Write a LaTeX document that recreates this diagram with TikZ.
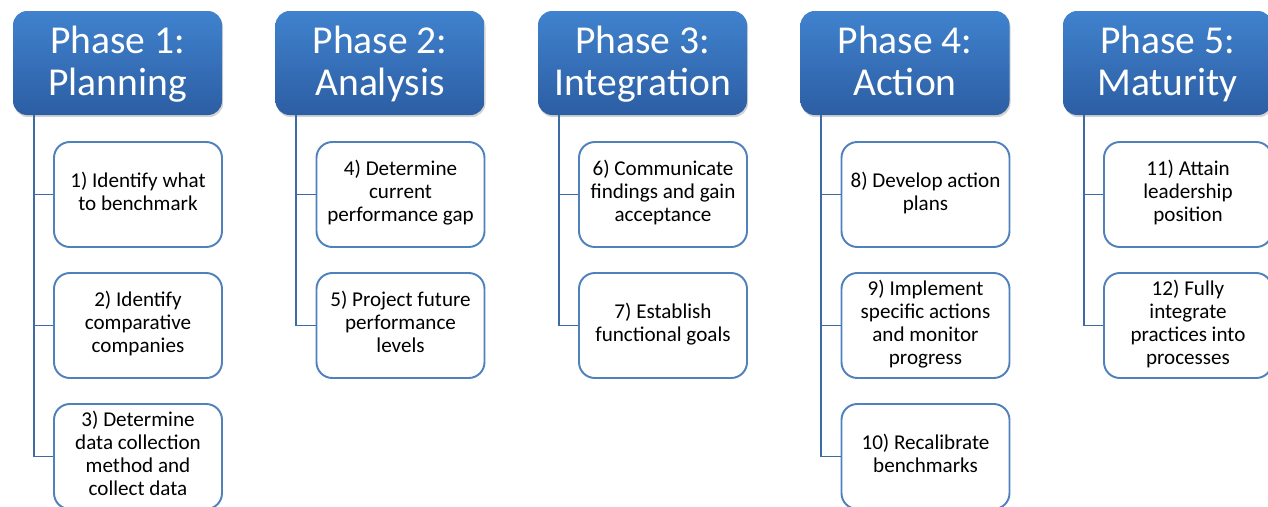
\documentclass[tikz,border=0pt]{standalone}
\usepackage{fontspec}
\setmainfont{Carlito}
\usetikzlibrary{shadows}
\definecolor{phasetop}{RGB}{64,130,206}
\definecolor{phasebot}{RGB}{44,94,163}
\definecolor{stepline}{RGB}{79,129,189}
\definecolor{linkblue}{RGB}{62,106,165}

\tikzset{
  phase/.style={rectangle, rounded corners=8pt, minimum width=4.18cm, minimum height=2.08cm,
    top color=phasetop, bottom color=phasebot, draw=none, text=white, align=center,
    font=\fontsize{22.5}{24.4}\selectfont, inner sep=0pt,
    text height=44.3pt, text depth=6.8pt,
    drop shadow={opacity=0.35, shadow xshift=0.6pt, shadow yshift=-1.2pt}},
  stepbox/.style={rectangle, rounded corners=9pt, minimum width=3.36cm, minimum height=2.1cm,
    draw=stepline, line width=1.1pt, fill=white, align=center,
    font=\fontsize{12}{13}\selectfont, inner sep=0pt,
    execute at begin node=\strut, execute at end node=\strut},
  link/.style={linkblue, line width=1.1pt}
}

\begin{document}
\begin{tikzpicture}
\useasboundingbox (0,0) rectangle (25.36,-10.12);

% Phase headers
\node[phase] (p1) at (2.35,-1.26) {Phase 1:\\Planning};
\node[phase] (p2) at (7.60,-1.26) {Phase 2:\\Analysis};
\node[phase] (p3) at (12.85,-1.26) {Phase 3:\\Integration};
\node[phase] (p4) at (18.10,-1.26) {Phase 4:\\Action};
\node[phase] (p5) at (23.35,-1.26) {Phase 5:\\Maturity};

% Planning steps
\node[stepbox] (s1) at (2.76,-3.89) {1) Identify what\\to benchmark};
\node[stepbox] (s2) at (2.76,-6.51) {2) Identify\\comparative\\companies};
\node[stepbox] (s3) at (2.76,-9.13) {3) Determine\\data collection\\method and\\collect data};

% Analysis steps
\node[stepbox] (s4) at (8.01,-3.89) {4) Determine\\current\\performance gap};
\node[stepbox] (s5) at (8.01,-6.51) {5) Project future\\performance\\levels};

% Integration steps
\node[stepbox] (s6) at (13.26,-3.89) {6) Communicate\\findings and gain\\acceptance};
\node[stepbox] (s7) at (13.26,-6.51) {7) Establish\\functional goals};

% Action steps
\node[stepbox] (s8) at (18.51,-3.89) {8) Develop action\\plans};
\node[stepbox] (s9) at (18.51,-6.51) {9) Implement\\specific actions\\and monitor\\progress};
\node[stepbox] (s10) at (18.51,-9.13) {10) Recalibrate\\benchmarks};

% Maturity steps
\node[stepbox] (s11) at (23.76,-3.89) {11) Attain\\leadership\\position};
\node[stepbox] (s12) at (23.76,-6.51) {12) Fully\\integrate\\practices into\\processes};

% Tree lines
\draw[link] ([xshift=0.42cm]p1.south west) |- (s1.west);
\draw[link] ([xshift=0.42cm]p1.south west) |- (s2.west);
\draw[link] ([xshift=0.42cm]p1.south west) |- (s3.west);
\draw[link] ([xshift=0.42cm]p2.south west) |- (s4.west);
\draw[link] ([xshift=0.42cm]p2.south west) |- (s5.west);
\draw[link] ([xshift=0.42cm]p3.south west) |- (s6.west);
\draw[link] ([xshift=0.42cm]p3.south west) |- (s7.west);
\draw[link] ([xshift=0.42cm]p4.south west) |- (s8.west);
\draw[link] ([xshift=0.42cm]p4.south west) |- (s9.west);
\draw[link] ([xshift=0.42cm]p4.south west) |- (s10.west);
\draw[link] ([xshift=0.42cm]p5.south west) |- (s11.west);
\draw[link] ([xshift=0.42cm]p5.south west) |- (s12.west);
\end{tikzpicture}
\end{document}
